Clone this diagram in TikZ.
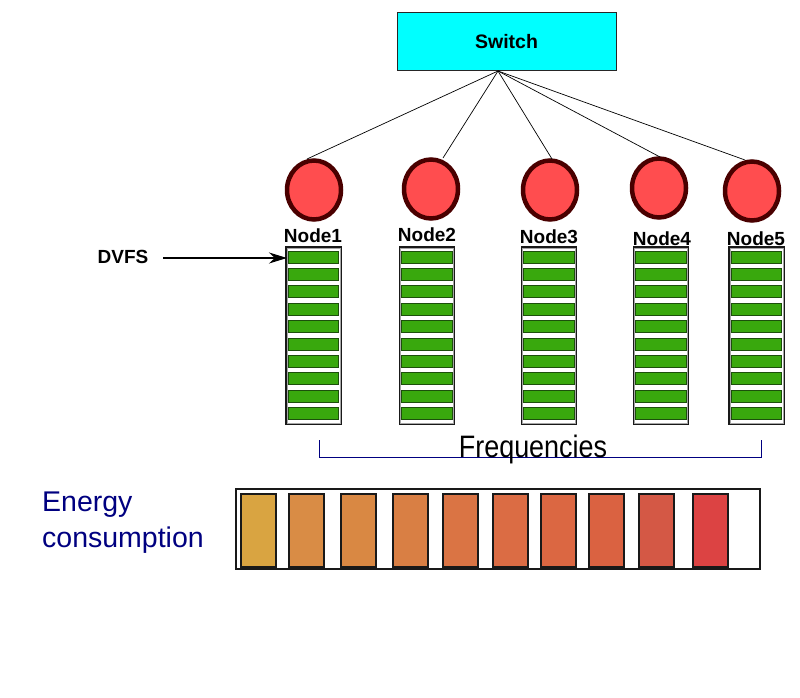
\documentclass[tikz,border=0pt]{standalone}
\usepackage{fontspec}
\setmainfont{Liberation Sans}
\usetikzlibrary{arrows.meta}
\definecolor{swcyan}{HTML}{00FFFF}
\definecolor{nodered}{HTML}{FF4D4F}
\definecolor{nodeedge}{HTML}{4A0000}
\definecolor{bargreen}{HTML}{39A80D}
\definecolor{baredge}{HTML}{1C4F0B}
\definecolor{navy}{HTML}{000080}
\definecolor{e1}{HTML}{D9A441}
\definecolor{e2}{HTML}{D98C45}
\definecolor{e3}{HTML}{D98843}
\definecolor{e4}{HTML}{D97F44}
\definecolor{e5}{HTML}{DA7444}
\definecolor{e6}{HTML}{DB6C44}
\definecolor{e7}{HTML}{DB6742}
\definecolor{e8}{HTML}{DA6241}
\definecolor{e9}{HTML}{D45845}
\definecolor{e10}{HTML}{DC4343}
\tikzset{
  switchbox/.style={draw=black!85, line width=1pt, fill=swcyan, minimum width=219pt, minimum height=58pt, inner sep=0pt, font=\fontsize{19.5}{22}\selectfont\bfseries},
  cpu/.style={draw=nodeedge, line width=4.5pt, fill=nodered},
  lbl/.style={font=\fontsize{19}{21}\selectfont\bfseries, inner sep=0pt},
  column/.style={draw=black!90, line width=1.6pt, fill=white, minimum width=55pt, minimum height=177pt, inner sep=0pt},
  freqbar/.style={draw=baredge, line width=1pt, fill=bargreen},
  ebar/.style={draw=black!90, line width=1.6pt},
  link/.style={draw=black, line width=0.7pt}
}
\begin{document}
\begin{tikzpicture}[x=1pt,y=-1pt]
\useasboundingbox (0,0) rectangle (800,698);
% switch
\node[switchbox] (sw) at (506.5,42) {Switch};
\coordinate (hub) at (498,71);
% nodes (circles)
\foreach \i/\cx/\cy in {1/314/190,2/431/189,3/550/190,4/659/188,5/752/191}{
  \draw[cpu] (\cx,\cy) ellipse [x radius=27pt, y radius=29.5pt];
  \coordinate (n\i) at (\cx,\cy);
}
\path (n1) ++(-7,-31) coordinate (t1);
\path (n2) ++(12,-31) coordinate (t2);
\path (n3) ++(2,-31) coordinate (t3);
\path (n4) ++(1,-31) coordinate (t4);
\path (n5) ++(-7,-31) coordinate (t5);
\foreach \i in {1,...,5}{ \draw[link] (hub) -- (t\i); }
% labels
\node[lbl] (l1) at (313,236) {Node1};
\node[lbl] (l2) at (427,235) {Node2};
\node[lbl] (l3) at (549,237) {Node3};
\node[lbl] (l4) at (662,239) {Node4};
\node[lbl] (l5) at (756,239) {Node5};
% columns
\foreach \i/\cx in {1/313.5,2/427,3/549,4/661,5/756.5}{
  \node[column] (c\i) at (\cx,335.5) {};
  \draw[black!35, line width=0.8pt] ([xshift=1.8pt,yshift=-1.8pt]c\i.north west) rectangle ([xshift=-1.8pt,yshift=1.8pt]c\i.south east);
  \foreach \k in {0,...,9}{
    \draw[freqbar] ([xshift=3pt]c\i.north west |- 0,{251+17.4*\k}) rectangle ([xshift=-3pt]c\i.north east |- 0,{263+17.4*\k});
  }
}
% DVFS
\node[lbl] (dvfs) at (123,257) {DVFS};
\coordinate (dvfsstart) at (163,258);
\coordinate (dvfsend) at (287,258);
\draw[line width=1.8pt, -{Stealth[length=18pt,width=11pt]}] (dvfsstart) -- (dvfsend);
% Frequencies bracket
\coordinate (fl) at (319,440);
\coordinate (fr) at (761,440);
\draw[navy, line width=1pt] (fl) -- (319,457) -- (761,457) -- (fr);
\node[font=\fontsize{31}{34}\selectfont, inner sep=0pt, anchor=base, xscale=0.87] (freq) at (533,457) {Frequencies};
% Energy consumption
\node[navy, font=\fontsize{28.5}{36}\selectfont, align=left, anchor=north west, inner sep=0pt] (energy) at (42,492) {Energy\\consumption};
\node[draw=black!90, line width=1.5pt, minimum width=524pt, minimum height=80pt, inner sep=0pt] (ebox) at (498,529) {};
\foreach \k/\x in {1/241,2/289,3/341,4/393,5/443,6/493,7/541,8/589,9/639,10/693}{
  \draw[ebar, fill=e\k] (\x,494) rectangle ({\x+35},567);
}
\end{tikzpicture}
\end{document}
